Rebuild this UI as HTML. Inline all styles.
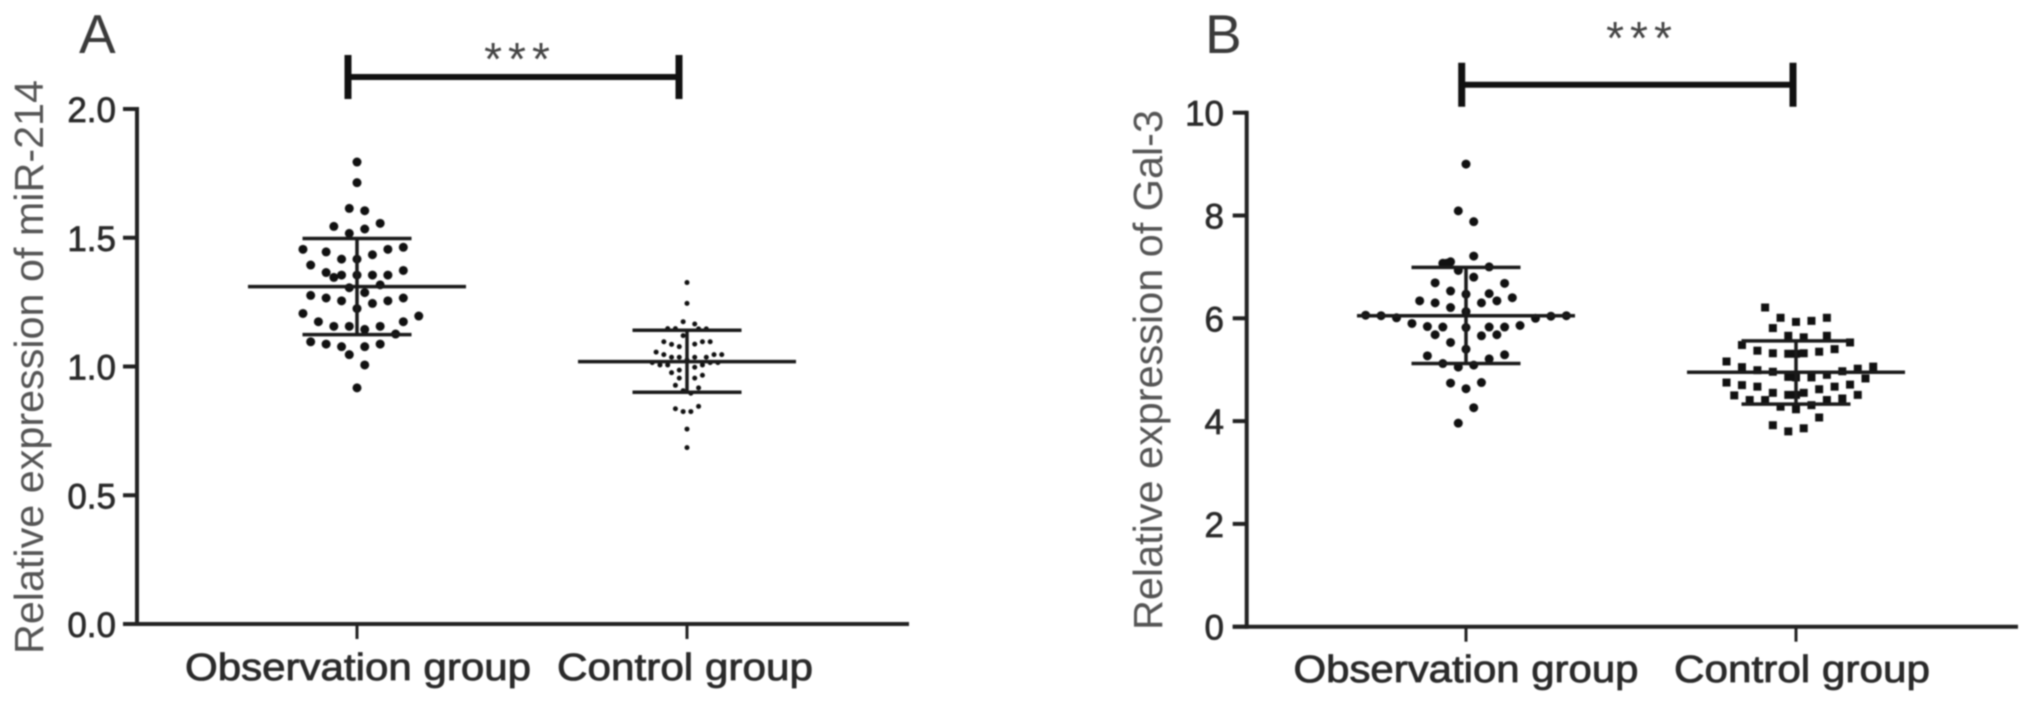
<!DOCTYPE html>
<html lang="en">
<head>
<meta charset="utf-8">
<title>Relative expression of miR-214 and Gal-3</title>
<style>
html,body{margin:0;padding:0;background:#fff;width:2031px;height:703px;overflow:hidden}
svg{display:block;filter:blur(0.7px)}
text{font-family:"Liberation Sans",Arial,sans-serif}
.ttl{font-size:41px;fill:#555}
.xl{font-size:38px;fill:#2a2a2a;stroke:#2a2a2a;stroke-width:.8px}
.yl{font-size:35px;fill:#2a2a2a;stroke:#2a2a2a;stroke-width:.7px}
.let{font-size:55px;fill:#3a3a3a}
.star{font-size:46px;fill:#444;letter-spacing:6px}
</style>
</head>
<body>
<svg id="chart" xmlns="http://www.w3.org/2000/svg" width="2031" height="703" viewBox="0 0 2031 703">
  <rect x="0" y="0" width="2031" height="703" fill="#fff"/>
  <g id="panel-a">
    <text class="let" x="79" y="53">A</text>
    <text class="ttl" transform="translate(43,367) rotate(-90)" text-anchor="middle" textLength="574" lengthAdjust="spacingAndGlyphs">Relative expression of miR-214</text>
    <text class="xl" x="358" y="680" text-anchor="middle" textLength="346" lengthAdjust="spacingAndGlyphs">Observation group</text>
    <text class="xl" x="685" y="680" text-anchor="middle" textLength="256" lengthAdjust="spacingAndGlyphs">Control group</text>
    <text class="star" x="520" y="75" text-anchor="middle">***</text>
  </g>
  <g id="panel-b">
    <text class="let" x="1205" y="53">B</text>
    <text class="ttl" transform="translate(1162,370) rotate(-90)" text-anchor="middle" textLength="520" lengthAdjust="spacingAndGlyphs">Relative expression of Gal-3</text>
    <text class="xl" x="1466" y="682" text-anchor="middle" textLength="345" lengthAdjust="spacingAndGlyphs">Observation group</text>
    <text class="xl" x="1802" y="682" text-anchor="middle" textLength="256" lengthAdjust="spacingAndGlyphs">Control group</text>
    <text class="star" x="1642" y="54" text-anchor="middle">***</text>
  </g>
</svg>
<script>
// ---- Panel A data: miR-214 ----
const aTicks = [0, 0.5, 1, 1.5, 2];
const aTickLabels = ['0.0', '0.5', '1.0', '1.5', '2.0'];
const aObsValues = [1.794,1.714,1.614,1.605,1.544,1.556,1.534,1.517,1.455,1.445,1.417,1.417,1.434,1.455,1.463,1.394,1.365,1.346,1.355,1.355,1.355,1.355,1.373,1.306,1.317,1.287,1.276,1.266,1.255,1.245,1.255,1.266,1.225,1.206,1.196,1.174,1.174,1.156,1.156,1.144,1.156,1.126,1.096,1.087,1.077,1.077,1.087,1.046,1.006,0.917];
const aObsSlots = [0,0,-1,1,-3,3,1,-1,-7,-4,-2,0,2,4,6,-6,-4,-3,-2,0,2,4,6,-1,3,1,-6,-4,-2,2,4,6,0,-7,8,-5,6,-3,-1,1,3,5,-6,-4,-2,1,3,-1,1,0];
const aCtrlValues = [1.326,1.245,1.174,1.165,1.147,1.147,1.146,1.146,1.120,1.096,1.086,1.077,1.087,1.096,1.096,1.056,1.046,1.036,1.036,1.036,1.036,1.046,1.046,1.015,1.006,1.006,1.025,1.006,1.015,1.015,0.997,0.986,0.976,0.955,0.966,0.955,0.927,0.917,0.906,0.896,0.836,0.825,0.825,0.845,0.757,0.685];
const aCtrlSlots = [0,0,-0.5,1,-2.5,-1.5,1.5,2.5,-0.5,-3,-2,-1,1,2,3,-4,-3,-2,-1,1,2.5,3.5,4.5,-4.5,-3.5,-2.5,0,2,3,4,1,-1,-2,-1,2,1,-1.5,1.5,-0.5,0.5,-1.5,-0.5,0.5,1.5,0,0];
const aMeans = [1.31, 1.019];
const aUpper = [1.497, 1.141];
const aLower = [1.124, 0.90];

// ---- Panel B data: Gal-3 ----
const bTicks = [0, 2, 4, 6, 8, 10];
const bTickLabels = ['0', '2', '4', '6', '8', '10'];
const bObsValues = [9.0,8.09,7.88,7.21,7.07,7.10,7.07,7.00,6.93,6.80,6.69,6.68,6.53,6.47,6.48,6.34,6.30,6.30,6.34,6.40,6.21,6.13,6.06,6.05,6.01,5.90,5.84,5.83,5.82,5.83,5.83,5.86,6.00,6.04,6.05,5.68,5.66,5.68,5.53,5.40,5.27,5.29,5.21,5.12,5.09,5.05,4.74,4.75,4.63,4.26,3.96];
const bObsSlots = [0,-1,1,1,-3,-2,-2.5,3,-1,1,-4,5,-2,0,3,-6,-4,2,4,6,-2,0,-13,-11,-9,-7,-5,-3,0,3,5,7,9,11,13,-4,2,4,-2,0,-5,5,3,-3,1,-1,-2,2,0,1,-1];
const bCtrlValues = [6.21,6.01,5.81,5.93,5.95,6.01,5.66,5.63,5.66,5.48,5.53,5.37,5.32,5.31,5.31,5.32,5.35,5.40,5.16,5.05,4.99,4.96,4.97,5.02,5.06,4.86,4.85,4.85,4.90,4.83,4.75,4.70,4.67,4.67,4.71,4.62,4.50,4.55,4.51,4.51,4.55,4.51,4.41,4.41,4.41,4.44,4.28,4.23,4.31,4.07,3.92,3.86,3.80];
const bCtrlSlots = [-4,-2,-3,0,2,4,-1,1,4,-7,7,-5,-3,-1,0,1,3,5,-9,-7,-5,-3,6,8,10,-1,0,2,4,9,-9,-7,-5,5,7,3,-8,-3,-1,0,1,8,-6,-4,4,6,-2,0,2,3,-3,1,-1];
const bMeans = [6.05, 4.95];
const bUpper = [6.99, 5.56];
const bLower = [5.12, 4.33];

const NS = 'http://www.w3.org/2000/svg';

function add(parent, tag, attrs) {
  const el = document.createElementNS(NS, tag);
  for (const k in attrs) el.setAttribute(k, attrs[k]);
  parent.appendChild(el);
  return el;
}
function makeY(y0, yTop, yMax) {
  return function (v) { return y0 - (v / yMax) * (y0 - yTop); };
}
function line(parent, x1, y1, x2, y2, w, color, name) {
  const el = add(parent, 'line', {x1: x1, y1: y1, x2: x2, y2: y2, stroke: color, 'stroke-width': w});
  
  
  return el;
}
function drawAxes(parent, prefix, y, ticks, labels, axisX, axisEnd, cats, labelX) {
  const top = y(ticks[ticks.length - 1]);
  line(parent, axisX, top - 2, axisX, y(0) + 2, 4, '#222', prefix + '-y-axis-line');
  line(parent, axisX - 14, y(0), axisEnd, y(0), 4, '#222', prefix + '-x-axis-line');
  ticks.forEach(function (t, i) {
    line(parent, axisX - 14, y(t), axisX, y(t), 4, '#222', prefix + '-y-tick');
    const tx = add(parent, 'text', {x: labelX, y: y(t) + 13, 'text-anchor': 'end', 'class': 'yl'});
    
    
    tx.textContent = labels[i];
  });
  cats.forEach(function (cx) {
    line(parent, cx, y(0), cx, y(0) + 15, 3, '#222', prefix + '-x-tick');
  });
}
function drawPoints(parent, prefix, y, cx, values, slots, shape, size) {
  values.forEach(function (v, i) {
    const px = cx + slots[i] * 7.72;
    const py = y(v);
    let el;
    if (shape === 'square') {
      el = add(parent, 'rect', {x: px - size / 2, y: py - size / 2, width: size, height: size, fill: '#111'});
    } else {
      el = add(parent, 'circle', {cx: px, cy: py, r: size / 2, fill: '#111'});
    }
    
    
  });
}
function drawSummary(parent, prefix, y, cx, mean, upper, lower) {
  line(parent, cx - 109, y(mean), cx + 109, y(mean), 3.5, '#1a1a1a', prefix + '-mean-line');
  line(parent, cx, y(upper), cx, y(lower), 3.5, '#1a1a1a', prefix + '-error-bar');
  line(parent, cx - 54.5, y(upper), cx + 54.5, y(upper), 3.5, '#1a1a1a', prefix + '-upper-cap');
  line(parent, cx - 54.5, y(lower), cx + 54.5, y(lower), 3.5, '#1a1a1a', prefix + '-lower-cap');
}
function drawBracket(parent, prefix, x1, x2, yMid, half) {
  line(parent, x1, yMid, x2, yMid, 6, '#111', prefix + '-bracket-bar');
  line(parent, x1, yMid - half, x1, yMid + half, 7, '#111', prefix + '-bracket-left');
  line(parent, x2, yMid - half, x2, yMid + half, 7, '#111', prefix + '-bracket-right');
}

const gA = document.getElementById('panel-a');
const gB = document.getElementById('panel-b');
const yA = makeY(624, 109, 2);
const yB = makeY(626.7, 112.7, 10);

drawAxes(gA, 'panel-a', yA, aTicks, aTickLabels, 137, 909, [357, 687], 116);
drawPoints(gA, 'observation-a', yA, 357, aObsValues, aObsSlots, 'circle', 9);
drawSummary(gA, 'observation-a', yA, 357, aMeans[0], aUpper[0], aLower[0]);
drawPoints(gA, 'control-a', yA, 687, aCtrlValues, aCtrlSlots, 'circle', 5);
drawSummary(gA, 'control-a', yA, 687, aMeans[1], aUpper[1], aLower[1]);
drawBracket(gA, 'panel-a', 348, 679, 77, 22);

drawAxes(gB, 'panel-b', yB, bTicks, bTickLabels, 1246.7, 2018, [1466, 1796], 1224);
drawPoints(gB, 'observation-b', yB, 1466, bObsValues, bObsSlots, 'circle', 9);
drawSummary(gB, 'observation-b', yB, 1466, bMeans[0], bUpper[0], bLower[0]);
drawPoints(gB, 'control-b', yB, 1796, bCtrlValues, bCtrlSlots, 'square', 8);
drawSummary(gB, 'control-b', yB, 1796, bMeans[1], bUpper[1], bLower[1]);
drawBracket(gB, 'panel-b', 1461.7, 1793, 84.7, 22);
</script>
</body>
</html>
